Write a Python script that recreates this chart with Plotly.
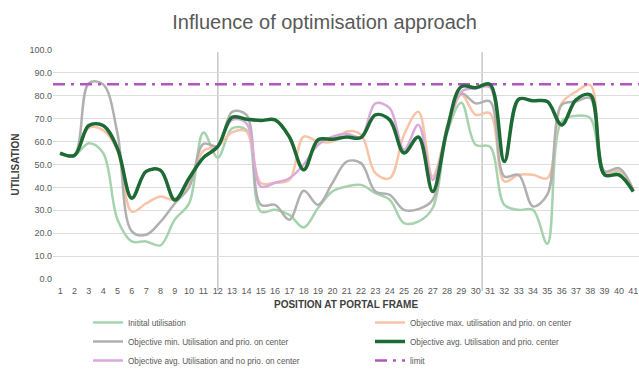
import plotly.graph_objects as go

positions = list(range(1, 42))

initial_util = [54.5, 54, 59.3, 55, 26, 16.4, 16.4, 14.7, 26, 33, 64, 53,
                65.8, 65, 29.5, 30.2, 28, 22.5, 31, 38.2, 40.4, 41.1, 37.5, 34.6, 24.4, 25.1,
                31, 63.7, 77, 58.6, 57.8, 32.4, 30.2, 30.2, 15.4, 68.8, 71.2, 70.2, 45.5, 47, 38.2]

obj_max_center = [55, 54, 66, 65, 56, 29.4, 33, 36, 34.6, 42, 56, 58,
                  64, 64.4, 41.9, 42, 43.3, 62.2, 60, 60, 64.4, 63, 46.2, 44, 63, 73,
                  44.8, 65, 80.4, 71.7, 72.4, 42.6, 45.5, 45.5, 44, 76.7, 81.8, 84.7, 46.2, 47.7, 38.2]

obj_min_center = [55, 54, 85.5, 85, 63.6, 20.8, 19.3, 25, 33, 40, 59, 58,
                  73, 71.7, 32.4, 32.4, 25.9, 38.5, 32.4, 41.9, 51.3, 50.6, 38.2, 36.8, 30.2, 30.5,
                  34.6, 66.6, 81, 76.7, 77.5, 44.8, 45.5, 31.7, 36.8, 76, 77.5, 79, 47, 48.4, 39]

obj_avg_center = [55, 54, 67, 67, 57, 35.3, 47, 47.5, 34.5, 44, 53, 57.8,
                  70.6, 69.8, 69.2, 69.5, 62, 47.7, 60.8, 61, 62, 61.8, 71.7, 69.5, 55, 62,
                  38.2, 65, 84, 83.5, 85, 51.3, 78.5, 77.8, 77.5, 67.3, 78.2, 80.4, 45.5, 45.5, 38.2]

obj_avg_noprio = [55, 54, 67, 67, 57, 35.3, 47, 47.5, 34.5, 44, 53, 58,
                  69.5, 68, 40.4, 42, 44, 50, 58.6, 62.2, 63.4, 62, 76.7, 74.6, 56.4, 67.3,
                  43.3, 64.4, 81.8, 83.3, 83.7, 51.3, 78.5, 77.8, 77.5, 67.3, 78.2, 80.4, 45.5, 45.5, 38.2]

limit_value = 85
marker_positions = [12, 30.45]
y_ticks = [0, 10, 20, 30, 40, 50, 60, 70, 80, 90, 100]

TEXT = "#595959"
SANS = "Liberation Sans, Arial, sans-serif"

fig = go.Figure()

def add_series(name, values, color, width, rank, legend):
    fig.add_trace(go.Scatter(
        x=positions, y=values, name=name, mode="lines",
        line=dict(color=color, width=width, shape="spline", smoothing=1.0),
        legendrank=rank, legend=legend,
    ))

add_series("Initital utilisation", initial_util, "#A6D3AE", 2.5, 1, "legend")
add_series("Objective max. utilisation and prio. on center", obj_max_center, "#F8C4A8", 2.5, 1, "legend2")
add_series("Objective min. Utilisation and prio. on center", obj_min_center, "#B0B0B0", 2.5, 2, "legend")
add_series("Objective avg. Utilisation and no prio. on center", obj_avg_noprio, "#D9A9DB", 2.5, 3, "legend")

fig.add_trace(go.Scatter(
    x=[0.5, 41.5], y=[limit_value, limit_value], name="limit", mode="lines",
    line=dict(color="#B057BE", width=2.5, dash="12px,6px,3px,6px"),
    legendrank=3, legend="legend2",
))

add_series("Objective avg. Utilisation and prio. center", obj_avg_center, "#1D6A34", 3.5, 2, "legend2")

for xp in marker_positions:
    fig.add_shape(type="line", xref="x", yref="paper", x0=xp, x1=xp, y0=-0.052, y1=0.99,
                  line=dict(color="#C8C8C8", width=1.5), layer="below")

# axis titles placed as annotations (plot area spans x 53..639, y 50..279 px)
fig.add_annotation(text="<b>UTILISATION</b>", xref="paper", yref="paper",
                   x=(15 - 53) / 586, y=0.5, textangle=-90, showarrow=False,
                   xanchor="center", yanchor="middle",
                   font=dict(family=SANS, size=10, color="#404040"))
fig.add_annotation(text="<b>POSITION AT PORTAL FRAME</b>", xref="paper", yref="paper",
                   x=0.5, y=(279 - 304) / 229, showarrow=False,
                   xanchor="center", yanchor="middle",
                   font=dict(family=SANS, size=10, color="#404040"))

legend_common = dict(
    orientation="v", xref="container", yref="container", yanchor="top", xanchor="left",
    y=1 - 308 / 372, font=dict(family=SANS, size=8.2, color=TEXT),
    tracegroupgap=0, bgcolor="rgba(0,0,0,0)",
)

fig.update_layout(
    width=639, height=372,
    margin=dict(l=53, r=0, t=50, b=93, autoexpand=False),
    paper_bgcolor="white", plot_bgcolor="white",
    title=dict(text="Influence of optimisation approach", x=0.508, xref="container", y=0.94,
               yanchor="middle", font=dict(family=SANS, size=20, color=TEXT)),
    xaxis=dict(
        range=[0.5, 41.4], tickmode="array", tickvals=positions, ticktext=[str(p) for p in positions],
        showgrid=False, zeroline=False, showline=False, ticks="outside", ticklen=3,
        tickcolor="rgba(0,0,0,0)",
        tickfont=dict(family=SANS, size=9, color=TEXT),
    ),
    yaxis=dict(
        range=[0, 100], tickmode="array", tickvals=y_ticks, tickformat=".1f",
        showgrid=True, gridcolor="#DDDDDD", gridwidth=1, zeroline=False, showline=False, ticks="",
        tickfont=dict(family=SANS, size=9, color=TEXT),
    ),
    legend=dict(x=88 / 639, **legend_common),
    legend2=dict(x=370 / 639, **legend_common),
    showlegend=True,
)

fig.write_html("out.html")
